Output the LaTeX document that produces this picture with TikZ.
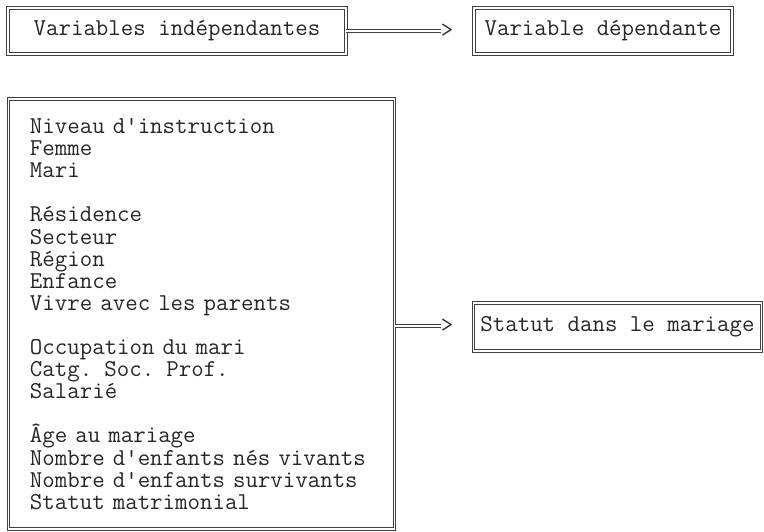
\documentclass[tikz,border=0pt]{standalone}
\usepackage{fontspec}
\usetikzlibrary{positioning}

\begin{document}
\begin{tikzpicture}[x=1pt,y=-1pt,
	cadre/.style={draw=black!75,double,double distance=1.3pt,line width=0.9pt,inner sep=0pt,text=black!85,font=\ttfamily\fontsize{24.2}{22.1}\selectfont},
	fleche/.style={draw=black!75,double,double distance=1.3pt,line width=0.9pt},
	pointe/.style={inner sep=0pt,text=black!80,font=\ttfamily\fontsize{24.2}{22.1}\selectfont}]
	\useasboundingbox (0,0) rectangle (764,532);
	
	% en-tete
	\node[cadre,minimum width=338pt,minimum height=46pt] (indep) at (177,31) {Variables indépendantes};
	\node[cadre,minimum width=258pt,minimum height=46pt] (dep) at (603,31) {Variable dépendante};
	\node[pointe] (gt1) at (447,31) {>};
	\draw[fleche] (indep.east) -- (gt1.west);
	
	% modele
	\node[cadre,minimum width=386pt,minimum height=430pt,text width=343pt,align=left] (facteurs) at (201.5,314) {Niveau d\textquotesingle instruction\\
		Femme\\
		Mari\\[22.1pt]
		Résidence\\
		Secteur\\
		Région\\
		Enfance\\
		Vivre avec les parents\\[22.1pt]
		Occupation du mari\\
		Catg. Soc. Prof.\\
		Salarié\\[22.1pt]
		Âge au mariage\\
		Nombre d\textquotesingle enfants nés vivants\\
		Nombre d\textquotesingle enfants survivants\\
		Statut matrimonial};
	\node[cadre,minimum width=288pt,minimum height=48pt] (statut) at (617.5,327) {Statut dans le mariage};
	\node[pointe] (gt2) at (447,326) {>};
	\draw[fleche] (facteurs.east |- gt2) -- (gt2.west);
	
\end{tikzpicture}
\end{document}
